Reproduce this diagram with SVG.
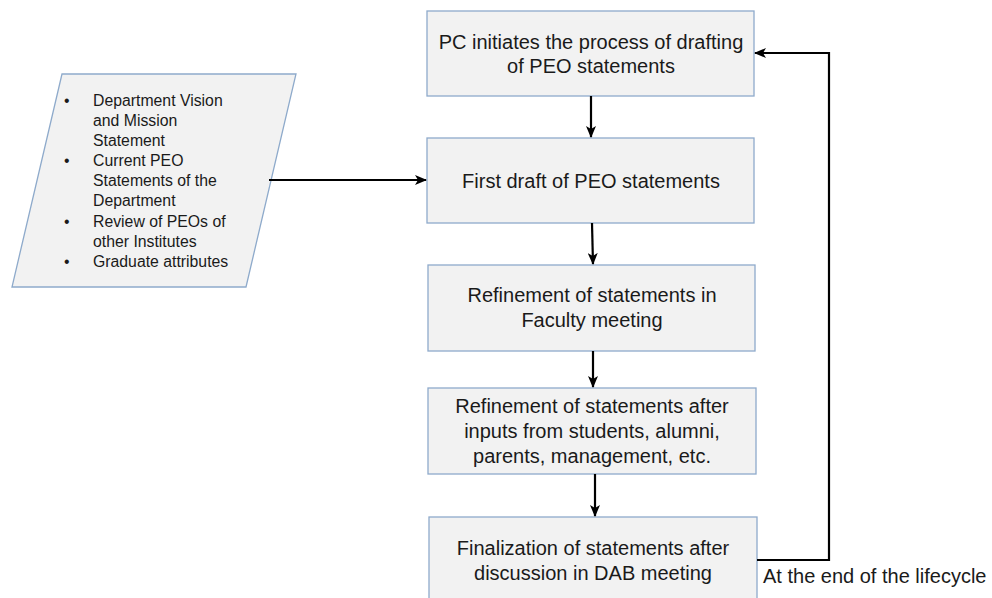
<svg xmlns="http://www.w3.org/2000/svg" width="992" height="598" viewBox="0 0 992 598">
<defs>
<style>
.box{fill:#f2f2f2;stroke:#8eaacb;stroke-width:1.3}
.t{font-family:"Liberation Sans",Arial,sans-serif;font-size:20px;fill:#1a1a1a;text-anchor:middle}
.s{font-family:"Liberation Sans",Arial,sans-serif;font-size:15.8px;fill:#1a1a1a}
.c{fill:none;stroke:#000;stroke-width:2.2}
</style>
<marker id="ah" viewBox="0 0 12 10" refX="11" refY="5" markerWidth="12" markerHeight="10" markerUnits="userSpaceOnUse" orient="auto">
<path d="M0,0 L12,5 L0,10 L3,5 Z" fill="#000"/>
</marker>
</defs>
<rect width="992" height="598" fill="#fff"/>
<g id="inputs">
<polygon class="box" points="62,74 296,74 246,287 12,287"/>
<g class="s">
<text x="64" y="106">•</text><text x="93" y="106">Department Vision</text>
<text x="93" y="126">and Mission</text>
<text x="93" y="146">Statement</text>
<text x="64" y="166">•</text><text x="93" y="166">Current PEO</text>
<text x="93" y="186">Statements of the</text>
<text x="93" y="206">Department</text>
<text x="64" y="227">•</text><text x="93" y="227">Review of PEOs of</text>
<text x="93" y="247">other Institutes</text>
<text x="64" y="267">•</text><text x="93" y="267">Graduate attributes</text>
</g>
</g>
<g id="n1">
<rect class="box" x="427" y="11" width="327" height="85"/>
<text class="t" x="591" y="49">PC initiates the process of drafting</text>
<text class="t" x="591" y="73">of PEO statements</text>
</g>
<g id="n2">
<rect class="box" x="427" y="138" width="327" height="85"/>
<text class="t" x="591" y="188">First draft of PEO statements</text>
</g>
<g id="n3">
<rect class="box" x="428" y="265" width="327" height="86"/>
<text class="t" x="592" y="302">Refinement of statements in</text>
<text class="t" x="592" y="327">Faculty meeting</text>
</g>
<g id="n4">
<rect class="box" x="428" y="388" width="328" height="86"/>
<text class="t" x="592" y="413">Refinement of statements after</text>
<text class="t" x="592" y="438">inputs from students, alumni,</text>
<text class="t" x="592" y="463">parents, management, etc.</text>
</g>
<g id="n5">
<rect class="box" x="429" y="517" width="328" height="90"/>
<text class="t" x="593" y="555">Finalization of statements after</text>
<text class="t" x="593" y="580">discussion in DAB meeting</text>
</g>
<g id="connectors">
<line class="c" x1="269" y1="180" x2="426" y2="180" marker-end="url(#ah)"/>
<line class="c" x1="591" y1="96" x2="591" y2="137" marker-end="url(#ah)"/>
<line class="c" x1="592" y1="223" x2="593" y2="264" marker-end="url(#ah)"/>
<line class="c" x1="593" y1="351" x2="593" y2="387" marker-end="url(#ah)"/>
<line class="c" x1="595" y1="474" x2="595" y2="516" marker-end="url(#ah)"/>
<polyline class="c" points="757,560 829,560 829,53 755,53" marker-end="url(#ah)"/>
<text class="t" x="763" y="583" style="text-anchor:start">At the end of the lifecycle</text>
</g>
</svg>
